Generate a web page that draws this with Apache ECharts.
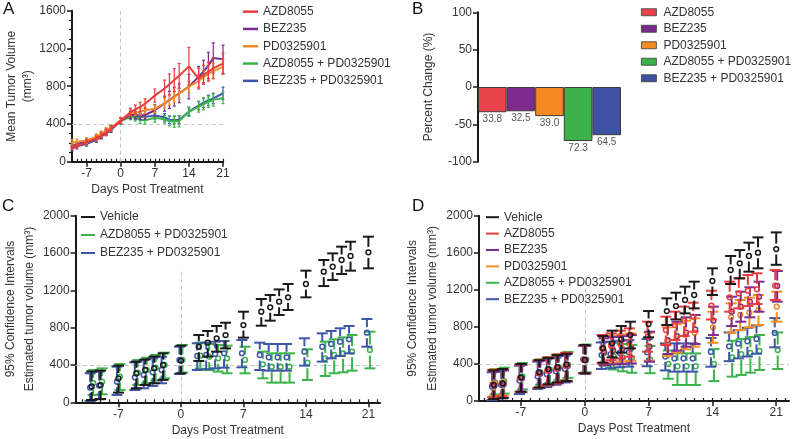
<!DOCTYPE html>
<html><head><meta charset="utf-8">
<script src="https://cdn.jsdelivr.net/npm/echarts@6/dist/echarts.min.js"></script>
<style>html,body{margin:0;padding:0;background:#fff}#c{width:800px;height:439px}</style>
</head><body><div id="c"></div>
<script>
// ---------- shared ----------
const days = [-10,-9,-7,-5,-4,-3,-2,0,2,3,4,5,7,9,10,11,12,14,16,17,18,19,21];
const dayTickLabels = [-7,0,7,14,21];
const dayMinorTicks = [-11,-10,-9,-8,-7,-6,-5,-4,-3,-2,-1,0,1,2,3,4,5,6,7,8,9,10,11,12,13,14,15,16,17,18,19,20,21,22];
const groupNames = ['AZD8055','BEZ235','PD0325901','AZD8055 + PD0325901','BEZ235 + PD0325901'];

// ---------- panel A : mean tumor volume ± SEM ----------
const aMeanAZD = [145,165,205,245,275,310,350,435,525,555,580,615,700,775,820,865,910,1010,880,920,955,990,1040];
const aErrAZD  = [20,20,25,25,25,30,30,30,40,45,50,50,70,90,110,120,130,200,110,100,100,110,110];
const aMeanBEZ = [160,185,215,255,285,320,355,435,495,495,490,495,545,615,655,690,725,795,900,955,1020,1100,1085];
const aErrBEZ  = [25,25,25,25,30,30,30,30,40,40,45,45,60,80,90,100,100,130,110,120,140,160,150];
const aMeanPD  = [205,210,225,265,295,330,360,440,515,520,530,545,560,620,650,685,720,795,855,895,930,960,1005];
const aErrPD   = [30,30,30,30,30,30,30,30,30,30,35,35,40,50,50,55,55,60,70,70,75,80,80];
const aMeanAP  = [175,185,215,250,280,315,350,430,475,465,445,440,465,450,430,425,430,530,580,610,635,655,675];
const aErrAP   = [25,25,25,25,25,25,25,30,30,35,40,40,45,40,50,60,60,50,55,60,60,65,60];
const aMeanBP  = [140,160,190,230,265,300,335,430,480,475,475,475,490,470,445,440,445,530,595,625,650,670,725];
const aErrBP   = [25,25,25,25,25,25,25,30,30,30,35,35,40,40,40,40,40,40,45,50,55,55,65];

// ---------- panel B : percent change ----------
const bValues = [-33.8,-32.5,-39.0,-72.3,-64.5];

// ---------- panel C : estimates with 95% CI ----------
const cVehMean = [170,185,255,310,346,364,400,446,596,640,686,721,828,971,1018,1078,1125,1268,1400,1453,1525,1568,1607];
const cVehLow  = [25,35,104,150,186,204,240,310,443,490,543,578,693,821,875,936,989,1125,1246,1311,1375,1411,1436];
const cVehHigh = [330,340,393,436,460,490,525,607,721,764,818,853,971,1107,1150,1210,1268,1411,1525,1596,1668,1721,1775];
const cAPMean  = [204,221,275,318,346,371,400,454,500,489,471,471,454,407,382,382,382,425,471,507,525,543,561];
const cAPLow   = [79,86,132,186,204,232,257,318,360,346,329,311,311,257,211,211,211,239,282,311,321,339,364];
const cAPHigh  = [346,364,411,453,478,507,532,614,640,625,614,607,596,543,525,525,525,568,650,675,696,721,757];
const cBPMean  = [157,179,221,268,293,321,346,454,496,507,518,525,525,507,482,482,482,543,596,625,650,675,746];
const cBPLow   = [14,32,79,132,150,175,204,304,346,354,364,371,375,346,339,339,339,393,436,471,496,525,596];
const cBPHigh  = [311,329,382,428,453,471,489,596,632,639,650,657,668,639,625,625,625,686,739,764,793,818,893];

// ---------- panel D : estimates with 95% CI ----------
const dVehMean = [175,190,255,310,345,365,395,442,568,622,665,712,831,971,1025,1090,1144,1295,1414,1486,1565,1601,1640];
const dVehLow  = [20,30,100,145,180,200,215,299,414,471,522,568,687,820,881,946,1000,1144,1263,1324,1396,1432,1470];
const dVehHigh = [330,345,400,440,465,495,510,604,701,759,809,856,971,1108,1169,1234,1288,1432,1565,1629,1709,1766,1820];
const dAZDMean = [180,195,250,300,330,350,380,445,568,600,620,640,694,766,820,867,910,1030,1119,1162,1191,1205,1245];
const dAZDLow  = [40,50,100,140,170,190,215,300,406,440,460,478,532,604,658,701,748,880,964,1000,1025,1047,1090];
const dAZDHigh = [335,345,395,440,470,500,520,600,712,730,759,784,856,910,964,1018,1061,1190,1288,1324,1360,1378,1414];
const dBEZMean = [165,180,245,295,325,350,375,440,532,545,555,568,586,658,701,737,773,867,964,1018,1072,1126,1241];
const dBEZLow  = [25,35,95,140,170,190,210,295,388,395,400,406,424,507,543,586,615,712,809,856,903,964,1072];
const dBEZHigh = [315,330,390,435,460,490,510,595,676,690,700,712,748,820,856,903,928,1018,1126,1180,1227,1288,1403];
const dPDMean  = [190,200,245,300,330,355,380,445,550,560,575,586,586,640,676,712,737,795,903,928,953,982,1018];
const dPDLow   = [50,60,100,150,175,200,220,300,399,410,425,435,435,486,522,558,586,629,737,766,795,820,856];
const dPDHigh  = [340,345,390,445,470,500,520,600,694,705,720,730,737,795,831,867,892,964,1054,1090,1115,1144,1180];
const dAPMean  = [200,215,265,310,340,365,390,450,520,485,470,465,450,400,375,375,375,400,470,505,520,540,550];
const dAPLow   = [70,80,125,175,195,225,250,310,380,340,320,305,300,240,173,173,173,215,263,281,306,335,345];
const dAPHigh  = [345,360,410,450,475,505,530,610,640,625,615,605,595,545,514,514,514,560,650,670,690,712,740];
const dBPMean  = [155,175,220,265,290,320,345,450,496,507,518,525,525,480,460,460,460,530,590,620,645,670,735];
const dBPLow   = [10,30,75,130,150,175,200,300,346,354,364,371,375,330,317,317,317,370,430,460,480,510,580];
const dBPHigh  = [310,325,380,425,450,470,490,595,632,639,650,657,668,622,622,622,622,680,740,765,790,815,895];

// ---------- styling ----------
const FONT = 'Liberation Sans, Arial, sans-serif';
const TXT = '#333';
const AX = '#1a1a1a';
const COL = {veh:'#1a1a1a', azd:'#ec3b3f', bez:'#7b2c90', pd:'#f58b20', ap:'#3cb44b', bp:'#3d56a8'};
const BARCOL = ['#e8434a','#7d2a8e','#f58a22','#3bb34a','#3e52a3'];

const chart = echarts.init(document.getElementById('c'), null, {renderer:'canvas'});

function xAxes(gridIndex, min, max) {
  return [{
    type:'value', gridIndex, min, max,
    axisLine:{show:true, onZero:false, lineStyle:{color:AX, width:2}},
    axisTick:{show:true, length:5, customValues:dayTickLabels, lineStyle:{color:AX, width:1.5}},
    axisLabel:{show:true, customValues:dayTickLabels, margin:6, color:TXT, fontSize:12, fontFamily:FONT,
      formatter:v=>String(v)},
    splitLine:{show:false},
    name:'Days Post Treatment', nameLocation:'middle', nameGap:22,
    nameTextStyle:{color:TXT, fontSize:12, fontFamily:FONT}
  },{
    type:'value', gridIndex, min, max,
    axisLine:{show:false},
    axisTick:{show:true, length:3, customValues:dayMinorTicks.filter(v=>v>=min&&v<=max), lineStyle:{color:AX, width:1.2}},
    axisLabel:{show:false}, splitLine:{show:false}
  }];
}

function yAxis(gridIndex, min, max, interval, name, nameGap, minor, lh) {
  return {
    type:'value', gridIndex, min, max, interval,
    axisLine:{show:true, onZero:false, lineStyle:{color:AX, width:2}},
    axisTick:{show:true, length:5, lineStyle:{color:AX, width:1.5}},
    minorTick: minor ? {show:true, splitNumber:4, length:3, lineStyle:{color:AX, width:1.2}} : {show:false},
    axisLabel:{margin:6, color:TXT, fontSize:12, fontFamily:FONT, formatter:v=>String(v)},
    splitLine:{show:false},
    name, nameLocation:'middle', nameGap, nameRotate:90,
    nameTextStyle:{color:TXT, fontSize:12, fontFamily:FONT, lineHeight:lh||14}
  };
}

const dashed = {color:'#c4c4c4', type:[4,3], width:1};

// panel A series
const aSets = [
  ['A|AZD8055', COL.azd, aMeanAZD, aErrAZD, 6],
  ['A|BEZ235', COL.bez, aMeanBEZ, aErrBEZ, 4],
  ['A|PD0325901', COL.pd, aMeanPD, aErrPD, 5],
  ['A|AZD8055 + PD0325901', COL.ap, aMeanAP, aErrAP, 3],
  ['A|BEZ235 + PD0325901', COL.bp, aMeanBP, aErrBP, 2]
];
const series = [];
aSets.forEach(([name, color, mean, err, z], k) => {
  series.push({
    type:'line', name, xAxisIndex:0, yAxisIndex:0, z,
    data: days.map((d,i)=>[d, mean[i]]),
    showSymbol:false, symbol:'none', color,
    lineStyle:{color, width:2},
    markLine: k===0 ? {silent:true, symbol:'none', label:{show:false}, lineStyle:dashed, z:1,
      data:[{xAxis:0},{yAxis:400}]} : undefined
  });
  series.push({
    type:'custom', name:name+'_err', xAxisIndex:0, yAxisIndex:0, z,
    data: days.map((d,i)=>[d, mean[i]-err[i], mean[i]+err[i]]),
    encode:{x:0, y:[1,2]},
    renderItem:(p, api)=>{
      const lo = api.coord([api.value(0), api.value(1)]);
      const hi = api.coord([api.value(0), api.value(2)]);
      const st = {stroke:color, lineWidth:1.2, fill:null};
      return {type:'group', children:[
        {type:'line', shape:{x1:lo[0], y1:lo[1], x2:hi[0], y2:hi[1]}, style:st},
        {type:'line', shape:{x1:lo[0]-1.5, y1:lo[1], x2:lo[0]+1.5, y2:lo[1]}, style:st},
        {type:'line', shape:{x1:hi[0]-1.5, y1:hi[1], x2:hi[0]+1.5, y2:hi[1]}, style:st}
      ]};
    }
  });
});

// panel B series (stacked so each group has its own bar slot)
groupNames.forEach((g, k) => {
  series.push({
    type:'bar', name:'B|'+g, xAxisIndex:4, yAxisIndex:1, stack:'b', barWidth:'100%',
    data: bValues.map((v,i)=> i===k ? v : '-'),
    itemStyle:{color:BARCOL[k], borderColor:'#3a3a3a', borderWidth:1},
    label:{show:true, position:'bottom', distance:2, color:'#555', fontSize:10, fontFamily:FONT,
      formatter:(p)=>Math.abs(p.value).toFixed(1)}
  });
});

// CI series (panels C and D)
function ciSeries(name, color, xi, yi, mean, low, high, off, z, mark) {
  const s = {
    type:'custom', name, xAxisIndex:xi, yAxisIndex:yi, z, color, itemStyle:{color},
    data: days.map((d,i)=>[d, mean[i], low[i], high[i]]),
    encode:{x:0, y:[1,2,3]},
    renderItem:(p, api)=>{
      const m = api.coord([api.value(0), api.value(1)]);
      const l = api.coord([api.value(0), api.value(2)]);
      const h = api.coord([api.value(0), api.value(3)]);
      const x = m[0] + off, ym = m[1], yl = l[1], yh = h[1];
      const hw = 5.5, gap = 5.5;
      const st = {stroke:color, lineWidth:2, fill:null};
      const ch = [
        {type:'line', shape:{x1:x-hw, y1:yh, x2:x+hw, y2:yh}, style:st},
        {type:'line', shape:{x1:x-hw, y1:yl, x2:x+hw, y2:yl}, style:st}
      ];
      if (ym - yh > gap) ch.push({type:'line', shape:{x1:x, y1:yh, x2:x, y2:ym-gap}, style:st});
      if (yl - ym > gap) ch.push({type:'line', shape:{x1:x, y1:ym+gap, x2:x, y2:yl}, style:st});
      ch.push({type:'circle', shape:{cx:x, cy:ym, r:2.4}, style:{stroke:color, lineWidth:1.5, fill:'rgba(255,255,255,0)'}});
      return {type:'group', children:ch};
    }
  };
  if (mark) s.markLine = {silent:true, symbol:'none', label:{show:false}, lineStyle:dashed, z:1,
    data:[[{coord:[0, mark]},{coord:[0, 0]}], {yAxis:400}]};
  return s;
}
series.push(ciSeries('C|AZD8055 + PD0325901', COL.ap, 2, 2, cAPMean, cAPLow, cAPHigh, 1.5, 3, 1400));
series.push(ciSeries('C|BEZ235 + PD0325901', COL.bp, 2, 2, cBPMean, cBPLow, cBPHigh, -1.5, 4));
series.push(ciSeries('C|Vehicle', COL.veh, 2, 2, cVehMean, cVehLow, cVehHigh, 0, 5));

series.push(ciSeries('D|AZD8055 + PD0325901', COL.ap, 5, 3, dAPMean, dAPLow, dAPHigh, 1.5, 3, 1290));
series.push(ciSeries('D|BEZ235 + PD0325901', COL.bp, 5, 3, dBPMean, dBPLow, dBPHigh, -1.5, 4));
series.push(ciSeries('D|PD0325901', COL.pd, 5, 3, dPDMean, dPDLow, dPDHigh, 0.5, 5));
series.push(ciSeries('D|BEZ235', COL.bez, 5, 3, dBEZMean, dBEZLow, dBEZHigh, 1, 6));
series.push(ciSeries('D|AZD8055', COL.azd, 5, 3, dAZDMean, dAZDLow, dAZDHigh, -1, 7));
series.push(ciSeries('D|Vehicle', COL.veh, 5, 3, dVehMean, dVehLow, dVehHigh, 0, 8));

const legendText = {color:TXT, fontSize:12, fontFamily:FONT};
const fmt = n => n.split('|')[1];
const panelTitle = (text, left, top) => ({text, left, top, padding:0,
  textStyle:{fontSize:17, fontWeight:'normal', color:'#111', fontFamily:FONT}});

const option = {
  animation:false,
  backgroundColor:'#fff',
  textStyle:{fontFamily:FONT},
  title:[panelTitle('A',3,1), panelTitle('B',412,1), panelTitle('C',2,198), panelTitle('D',412,198)],
  legend:[
    {orient:'vertical', left:243, top:3, padding:0, itemGap:0, itemWidth:15, itemHeight:2.5, icon:'rect',
     data:groupNames.map(g=>'A|'+g), formatter:fmt, textStyle:Object.assign({lineHeight:17.3}, legendText)},
    {orient:'vertical', left:641, top:4, padding:0, itemGap:0, itemWidth:15, itemHeight:7, icon:'rect',
     itemStyle:{borderColor:'#3a3a3a', borderWidth:0.8},
     data:groupNames.map(g=>'B|'+g), formatter:fmt, textStyle:Object.assign({lineHeight:16.5, padding:[0,0,0,2]}, legendText)},
    {orient:'vertical', left:81, top:208, padding:0, itemGap:0, itemWidth:14, itemHeight:2, icon:'rect',
     data:['C|Vehicle','C|AZD8055 + PD0325901','C|BEZ235 + PD0325901'], formatter:fmt,
     textStyle:Object.assign({lineHeight:18}, legendText)},
    {orient:'vertical', left:486, top:209, padding:0, itemGap:0, itemWidth:13, itemHeight:2, icon:'rect',
     data:['D|Vehicle','D|AZD8055','D|BEZ235','D|PD0325901','D|AZD8055 + PD0325901','D|BEZ235 + PD0325901'], formatter:fmt,
     textStyle:Object.assign({lineHeight:16.4}, legendText)}
  ],
  grid:[
    {left:72, top:10.7, width:151, height:151},
    {left:478, top:12.3, width:143, height:149.4},
    {left:69, top:215.7, width:311, height:186.6},
    {left:479, top:215.7, width:310, height:185.3}
  ],
  xAxis:[
    ...xAxes(0, -10, 21),          // 0,1 : A
    ...xAxes(2, -11.8, 22.3),      // 2,3 : C
    {type:'category', gridIndex:1, data:groupNames, show:false, boundaryGap:true}, // 4 : B
    ...xAxes(3, -11.6, 22.4)       // 5,6 : D
  ],
  yAxis:[
    yAxis(0, 0, 1600, 400, 'Mean Tumor Volume\n(mm³)', 33, true, 16),
    yAxis(1, -100, 100, 50, 'Percent Change (%)', 42, false, 14),
    yAxis(2, 0, 2000, 400, '95% Confidence Intervals\nEstimated tumor volume (mm³)', 25, false, 19),
    yAxis(3, 0, 2000, 400, '95% Confidence Intervals\nEstimated tumor volume (mm³)', 32, false, 20)
  ],
  series
};
chart.setOption(option);
</script>
</body></html>
